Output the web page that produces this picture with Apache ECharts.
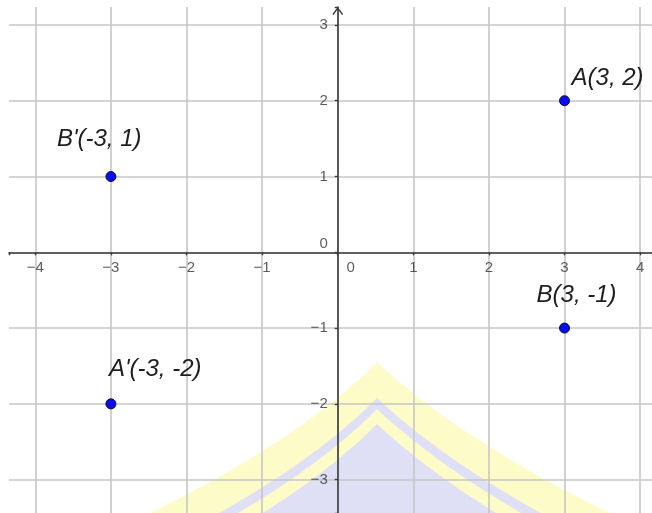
<!DOCTYPE html>
<html>
<head>
<meta charset="utf-8">
<script src="https://cdn.jsdelivr.net/npm/echarts@6/dist/echarts.min.js"></script>
<style>
html,body{margin:0;padding:0;background:#fff;}
#chart{width:652px;height:513px;}
</style>
</head>
<body>
<div id="chart"></div>
<script>
// ---- data ----
const pointNames = ["A", "B", "A'", "B'"];
const pointX = [3, 3, -3, -3];
const pointY = [2, -1, -2, 1];
const xTickValues = [-4, -3, -2, -1, 0, 1, 2, 3, 4];
const yTickValues = [-3, -2, -1, 0, 1, 2, 3];
const xRange = [-4.348, 4.157];
const yRange = [-3.44, 3.237];

// ---- style (label placement per point, pixels) ----
const labelOffsets = {
  "A": [7, -22],
  "B": [-28, -33],
  "A'": [-2, -35],
  "B'": [-54, -37]
};

const fmtNum = v => (v < 0 ? '\u2212' + Math.abs(v) : String(v));

const scatterData = pointNames.map((n, i) => ({
  name: n,
  value: [pointX[i], pointY[i]],
  label: {
    show: true,
    position: 'inside',
    align: 'left',
    verticalAlign: 'middle',
    offset: labelOffsets[n],
    formatter: n + '(' + pointX[i] + ', ' + pointY[i] + ')'
  }
}));

// tick labels placed next to the axes that cross at the origin
const xTickLabelData = xTickValues.map(v => ({
  value: [v, 0],
  label: {
    show: true, position: 'inside', align: 'center', verticalAlign: 'top',
    offset: v === 0 ? [13, 8] : [0, 8],
    formatter: fmtNum(v)
  }
}));
const yTickLabelData = yTickValues.map(v => ({
  value: [0, v],
  label: {
    show: true, position: 'inside', align: 'right', verticalAlign: 'middle',
    offset: v === 0 ? [-10, -8] : [-10, 0],
    formatter: fmtNum(v)
  }
}));

// faint background watermark (decoration): roof-like shape built from two quadratic curves
function roofPoints(dy) {
  const pts = [];
  const quad = (p0, c, p1) => {
    for (let k = 0; k <= 24; k++) {
      const t = k / 24, u = 1 - t;
      pts.push([u*u*p0[0] + 2*u*t*c[0] + t*t*p1[0], u*u*p0[1] + 2*u*t*c[1] + t*t*p1[1] + dy]);
    }
  };
  quad([150, 513], [300, 440], [377, 362]);
  quad([377, 362], [460, 440], [610, 513]);
  pts.push([610, 540], [150, 540]);
  return pts;
}
const wmLayers = [[0, '#fdfcc9'], [36, '#dfdff6'], [47, '#fdfcc9'], [62, '#dfdff6']];

const axisLineColor = '#3a3a3a';
const gridColor = '#c6c6c6';
const labelColor = '#333';
const ff = 'Liberation Sans, Arial, sans-serif';

const chart = echarts.init(document.getElementById('chart'), null, {renderer: 'canvas'});
chart.setOption({
  backgroundColor: '#fff',
  animation: false,
  grid: {left: 9, right: 0, top: 7, bottom: 0, containLabel: false, outerBoundsMode: 'none'},
  graphic: wmLayers.map((l, i) => ({
    type: 'polygon', z: -10 + i, silent: true,
    shape: {points: roofPoints(l[0])},
    style: {fill: l[1]}
  })),
  xAxis: {
    type: 'value',
    min: xRange[0], max: xRange[1],
    minInterval: 1, maxInterval: 1,
    axisLine: {show: true, onZero: true, lineStyle: {color: axisLineColor, width: 1.6}},
    axisTick: {show: true, inside: false, length: 3, lineStyle: {color: axisLineColor, width: 1.4}},
    axisLabel: {show: false},
    splitLine: {show: true, showMinLine: false, showMaxLine: false, lineStyle: {color: gridColor, width: 1.6}}
  },
  yAxis: {
    type: 'value',
    min: yRange[0], max: yRange[1],
    minInterval: 1, maxInterval: 1,
    axisLine: {
      show: true, onZero: true,
      symbol: ['none', 'path://M0,8 L6,0 L12,8 L10.8,9 L6,2.4 L1.2,9 Z'],
      symbolSize: [12, 8],
      symbolOffset: [0, -4],
      lineStyle: {color: axisLineColor, width: 1.6}
    },
    axisTick: {show: true, inside: false, length: 3, lineStyle: {color: axisLineColor, width: 1.4}},
    axisLabel: {show: false},
    splitLine: {show: true, showMinLine: false, showMaxLine: false, lineStyle: {color: gridColor, width: 1.6}}
  },
  series: [
    {
      type: 'scatter',
      data: xTickLabelData.concat(yTickLabelData),
      symbol: 'circle',
      symbolSize: 1,
      itemStyle: {color: 'rgba(0,0,0,0)'},
      label: {color: labelColor, fontSize: 15, fontFamily: ff},
      emphasis: {disabled: true},
      silent: true,
      z: 4
    },
    {
      type: 'scatter',
      data: scatterData,
      symbol: 'circle',
      symbolSize: 10,
      itemStyle: {color: '#0a0aff', borderColor: '#111', borderWidth: 1, opacity: 1},
      label: {
        color: '#1e1e1e', fontSize: 24, fontStyle: 'italic',
        fontFamily: ff
      },
      emphasis: {disabled: true},
      z: 5
    }
  ]
});
</script>
</body>
</html>
